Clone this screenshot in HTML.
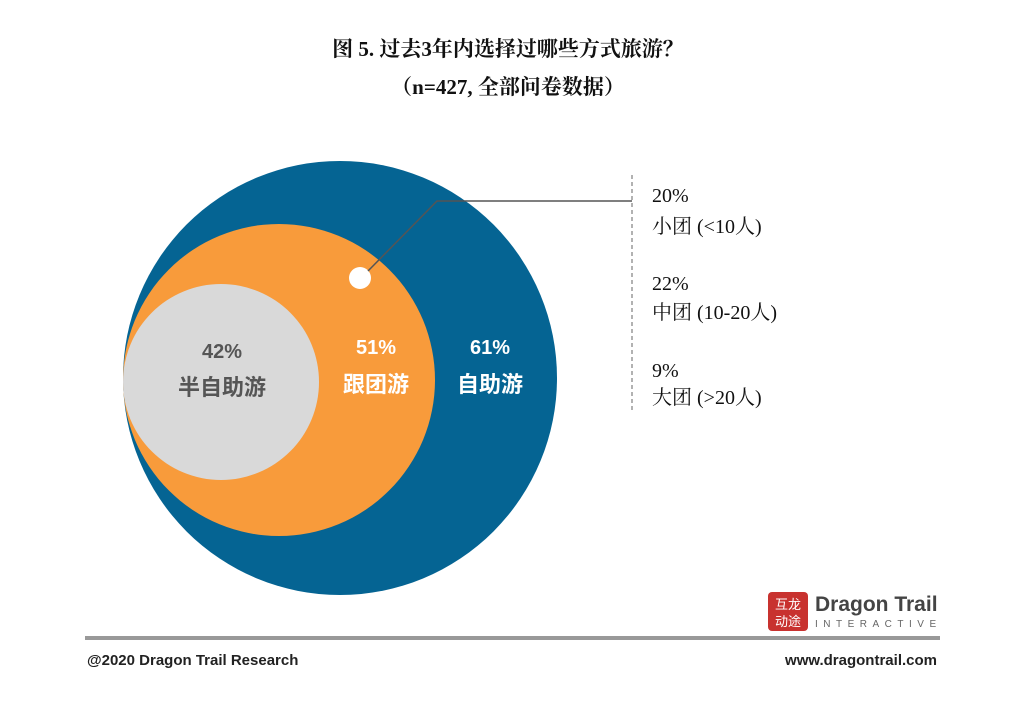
<!DOCTYPE html>
<html><head><meta charset="utf-8"><style>
body{margin:0;width:1016px;height:704px;background:#fff;overflow:hidden}
svg text{font-family:"Liberation Sans","Noto Sans CJK SC",sans-serif}
svg text.s{font-family:"Liberation Serif","Noto Serif CJK SC",serif}
</style></head><body>
<svg width="1016" height="704" viewBox="0 0 1016 704">
<text class="s" x="508" y="56" text-anchor="middle" font-size="21" font-weight="bold" fill="#111">图 5. 过去3年内选择过哪些方式旅游？</text>
<text class="s" x="508" y="94" text-anchor="middle" font-size="21" font-weight="bold" fill="#111">（n=427, 全部问卷数据）</text>
<circle cx="340" cy="378" r="217" fill="#056493"/>
<circle cx="279" cy="380" r="156" fill="#F89B3B"/>
<circle cx="221" cy="382" r="98" fill="#D9D9D9"/>
<circle cx="360" cy="278" r="11" fill="#fff"/>
<polyline points="368,271 437,201 632,201" fill="none" stroke="#555" stroke-width="1.5"/>
<line x1="632" y1="175" x2="632" y2="412" stroke="#666" stroke-width="1" stroke-dasharray="4,3"/>
<g font-weight="bold" font-size="20">
<text x="222" y="358" text-anchor="middle" fill="#555">42%</text>
<text x="222" y="395" text-anchor="middle" fill="#555" font-size="22">半自助游</text>
<text x="376" y="354" text-anchor="middle" fill="#fff">51%</text>
<text x="376" y="392" text-anchor="middle" fill="#fff" font-size="22">跟团游</text>
<text x="490" y="354" text-anchor="middle" fill="#fff">61%</text>
<text x="490" y="392" text-anchor="middle" fill="#fff" font-size="22">自助游</text>
</g>
<g font-size="20" fill="#111">
<text class="s" x="652" y="202">20%</text>
<text class="s" x="652" y="233">小团 (&lt;10人)</text>
<text class="s" x="652" y="290">22%</text>
<text class="s" x="652" y="319">中团 (10-20人)</text>
<text class="s" x="652" y="377">9%</text>
<text class="s" x="652" y="404">大团 (&gt;20人)</text>
</g>
<rect x="768" y="592" width="40" height="39" rx="4" fill="#C8322F"/>
<text x="788" y="609" text-anchor="middle" font-size="13" fill="#fff">互龙</text>
<text x="788" y="626" text-anchor="middle" font-size="13" fill="#fff">动途</text>
<text x="815" y="611" font-size="21" font-weight="bold" fill="#444">Dragon Trail</text>
<text x="815" y="627" font-size="10" fill="#666" letter-spacing="5.5">INTERACTIVE</text>
<rect x="85" y="636" width="855" height="4" fill="#999"/>
<text x="87" y="665" font-size="15" font-weight="bold" fill="#222">@2020 Dragon Trail Research</text>
<text x="937" y="665" text-anchor="end" font-size="15" font-weight="bold" fill="#222">www.dragontrail.com</text>
</svg>
</body></html>
